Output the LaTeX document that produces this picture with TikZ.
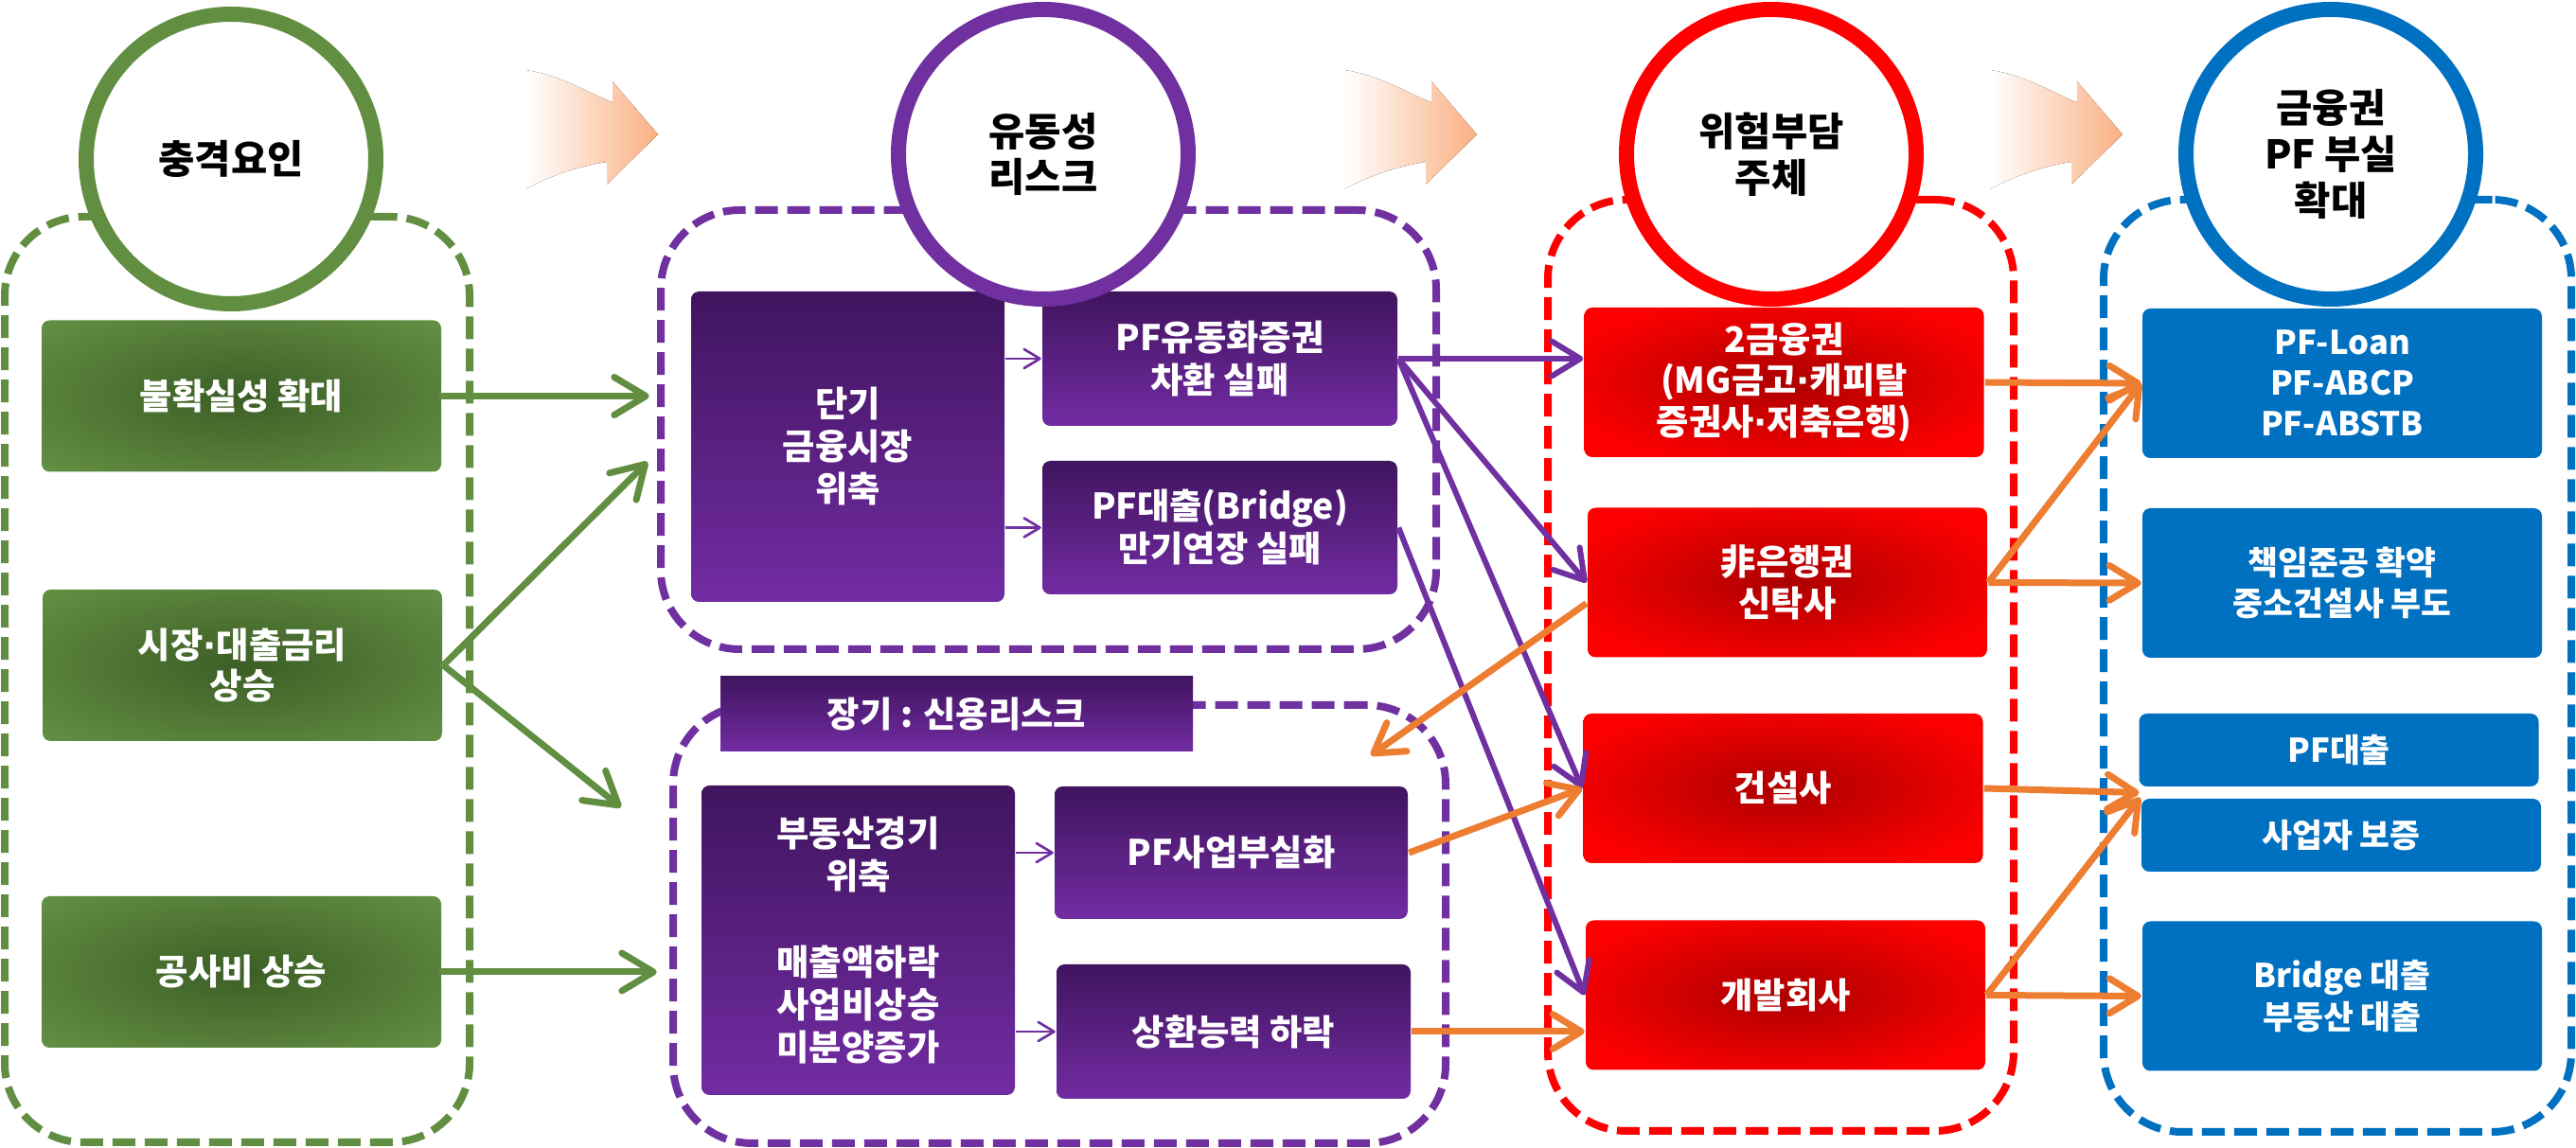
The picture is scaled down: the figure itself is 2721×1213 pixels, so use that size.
\documentclass[tikz,border=0pt]{standalone}
\usepackage{fontspec}
\setmainfont{Noto Sans CJK KR}
\newfontfamily\dotfont{DejaVu Sans}
\usetikzlibrary{arrows.meta,calc,shadings}

\definecolor{gcol}{RGB}{98,142,66}
\definecolor{gdark}{RGB}{60,94,38}
\definecolor{pcol}{RGB}{112,48,160}
\definecolor{ptopc}{RGB}{64,20,94}
\definecolor{pbotc}{RGB}{114,44,163}
\definecolor{rcol}{RGB}{255,0,0}
\definecolor{rdark}{RGB}{172,0,0}
\definecolor{bcol}{RGB}{0,112,192}
\definecolor{ocol}{RGB}{237,125,49}
\definecolor{peach}{RGB}{250,176,130}

\pgfdeclareradialshading{greenglow}{\pgfpoint{0bp}{0bp}}{color(0bp)=(gdark); color(34bp)=(gcol); color(50bp)=(gcol)}
\pgfdeclareradialshading{redglow}{\pgfpoint{0bp}{0bp}}{color(0bp)=(rdark); color(30bp)=(rcol); color(50bp)=(rcol)}

\newcommand{\mdot}{{\dotfont\bfseries ·}}

\tikzset{every picture/.style={line width=0.75pt}}
\tikzset{
  ring/.style={circle, draw=#1, line width=4.8pt, fill=white, minimum size=91.8pt, inner sep=0pt, align=center, font=\bfseries\fontsize{12.5}{14.6}\selectfont},
  zone/.style={rectangle, rounded corners=25pt, draw=#1, line width=2.4pt, dash pattern=on 7.2pt off 3pt},
  gbox/.style={rectangle, rounded corners=2.5pt, shade, shading=greenglow, minimum width=126.6pt, minimum height=48pt, text=white, align=center, font=\bfseries\fontsize{11.2}{13}\selectfont},
  pbox/.style={rectangle, rounded corners=2.5pt, top color=ptopc, bottom color=pbotc, text=white, align=center, font=\bfseries\fontsize{11.2}{13.5}\selectfont},
  rbox/.style={rectangle, rounded corners=2.5pt, shade, shading=redglow, minimum width=126.6pt, minimum height=47.4pt, text=white, align=center, font=\bfseries\fontsize{11.2}{13}\selectfont},
  bbox/.style={rectangle, rounded corners=2.5pt, fill=bcol, minimum width=126.6pt, text=white, align=center, font=\bfseries\fontsize{10.4}{13}\selectfont},
  flow/.style={left color=white, right color=peach},
  garrow/.style={draw=gcol, line width=2.1pt, line cap=round, -{Straight Barb[length=10pt,width=12pt,round]}},
  parrow/.style={draw=pcol, line width=1.8pt, -{Straight Barb[length=9pt,width=11pt,round]}},
  pthin/.style={draw=pcol, line width=0.8pt, -{Straight Barb[length=5pt,width=6pt,round]}},
  oarrow/.style={draw=ocol, line width=2.1pt, -{Straight Barb[length=9pt,width=11pt,round]}}
}

\begin{document}
\begin{tikzpicture}[x=0.3pt,y=0.3pt,yscale=-1,xscale=1]
        \fill[white] (0,0) rectangle (2721,1213);
        \useasboundingbox (0,0) rectangle (2721,1213);
        %Shape: Big Arrows
        \foreach \t in {695,1560,2242}{
          \fill[flow] ({\t-140},74) .. controls ({\t-100},80) and ({\t-75},98) .. ({\t-48},108) -- ({\t-48},86) -- (\t,142) -- ({\t-54},195) -- ({\t-54},171) .. controls ({\t-85},176) and ({\t-115},186) .. ({\t-140},200) -- cycle ;
        }
        %Dashed Zones
        \node[zone=gcol, minimum width=147.3pt, minimum height=293.4pt] (zg) at (250.5,718) {};
        \node[zone=pcol, minimum width=245.7pt, minimum height=139.2pt] (ptop) at (1107.5,454) {};
        \node[zone=pcol, minimum width=244.8pt, minimum height=138.9pt] (plow) at (1119,976.5) {};
        \node[zone=rcol, minimum width=147.6pt, minimum height=295.2pt] (zr) at (1881,703) {};
        \node[zone=bcol, minimum width=148.2pt, minimum height=295.5pt] (zb) at (2469,703.5) {};
        % Green boxes
        \node[gbox] (g1) at (255,418.5) {불확실성 확대};
        \node[gbox] (g2) at (256,703) {시장\mdot 대출금리\\상승};
        \node[gbox] (g3) at (255,1027) {공사비 상승};
        % Purple boxes
        \node[pbox, minimum width=99.3pt, minimum height=98.4pt] (pa1) at (895.5,472) {단기\\금융시장\\위축};
        \node[pbox, minimum width=112.5pt, minimum height=42.6pt] (pf1) at (1288.5,379) {PF유동화증권\\차환 실패};
        \node[pbox, minimum width=112.5pt, minimum height=42.3pt] (pf2) at (1288.5,557.5) {PF대출(Bridge)\\만기연장 실패};
        \node[pbox, rounded corners=0pt, minimum width=149.7pt, minimum height=23.7pt] (lab) at (1010.5,754.5) {장기 : 신용리스크};
        \node[pbox, minimum width=99.3pt, minimum height=98.1pt] (pa2) at (906.5,993.5) {부동산경기\\위축\\[13.8pt]매출액하락\\사업비상승\\미분양증가};
        \node[pbox, minimum width=111.9pt, minimum height=42pt] (pb1) at (1300.5,901) {PF사업부실화};
        \node[pbox, minimum width=112.2pt, minimum height=42.6pt] (pb2) at (1303,1090) {상환능력 하락};
        % Red boxes
        \node[rbox] (rf1) at (1884.5,404) {2금융권\\(MG금고\mdot 캐피탈\\증권사\mdot 저축은행)};
        \node[rbox] (rf2) at (1888,615.5) {非은행권\\신탁사};
        \node[rbox] (rf3) at (1883.5,833) {건설사};
        \node[rbox] (rf4) at (1886,1051.5) {개발회사};
        % Blue boxes
        \node[bbox, minimum height=47.4pt] (bl1) at (2474,405) {PF-Loan\\PF-ABCP\\PF-ABSTB};
        \node[bbox, minimum height=47.4pt] (bl2) at (2474,616) {책임준공 확약\\중소건설사 부도};
        \node[bbox, minimum height=23.1pt] (bl3) at (2470.5,792.5) {PF대출};
        \node[bbox, minimum height=23.1pt] (bl4) at (2473,882.5) {사업자 보증};
        \node[bbox, minimum height=47.4pt] (bl5) at (2474,1052.5) {Bridge 대출\\부동산 대출};
        % Circles
        \node[ring=gcol] (cshock) at (244,168) {충격요인};
        \node[ring=pcol] (cliq) at (1102,163) {유동성\\리스크};
        \node[ring=rcol] (crisk) at (1871,163) {위험부담\\주체};
        \node[ring=bcol] (cfin) at (2462,163) {금융권\\PF 부실\\확대};
        % Free ends
        \coordinate (gt1) at (684,488);
        \coordinate (gt2) at (656,853);
        \coordinate (lt) at (1448,798);
        \coordinate (jn) at ($(bl3.south west)!0.5!(bl4.north west)$);
        %Straight Lines
        \draw[garrow, shorten >=2.5pt] (g1.east) -- (ptop.west |- g1.east);
        \draw[garrow] (g2.east) -- (gt1);
        \draw[garrow] (g2.east) -- (gt2);
        \draw[garrow, shorten >=4pt] (g3.east) -- (plow.west |- g3.east);
        \draw[pthin] (pa1.east |- pf1.west) -- (pf1.west);
        \draw[pthin] (pa1.east |- pf2.west) -- (pf2.west);
        \draw[pthin] (pa2.east |- pb1.west) -- (pb1.west);
        \draw[pthin] (pa2.east |- pb2.west) -- (pb2.west);
        \draw[parrow] (pf1.east) -- (pf1.east -| rf1.west);
        \draw[parrow] (pf1.east) -- (rf2.west);
        \draw[parrow] (pf1.east) -- (rf3.west);
        \draw[parrow] (pf2.east) -- (rf4.west);
        \draw[oarrow] ($(rf2.west)+(0,22)$) -- (lt);
        \draw[oarrow] (pb1.east) -- (rf3.west);
        \draw[oarrow] (pb2.east) -- (pb2.east -| rf4.west);
        \draw[oarrow] (rf1.east) -- (bl1.west);
        \draw[oarrow] (rf2.east) -- (bl1.west);
        \draw[oarrow] (rf2.east) -- (bl2.west);
        \draw[oarrow] (rf3.east) -- (jn);
        \draw[oarrow] (rf4.east) -- (bl4.north west);
        \draw[oarrow] (rf4.east) -- (bl5.west);
\end{tikzpicture}
\end{document}
